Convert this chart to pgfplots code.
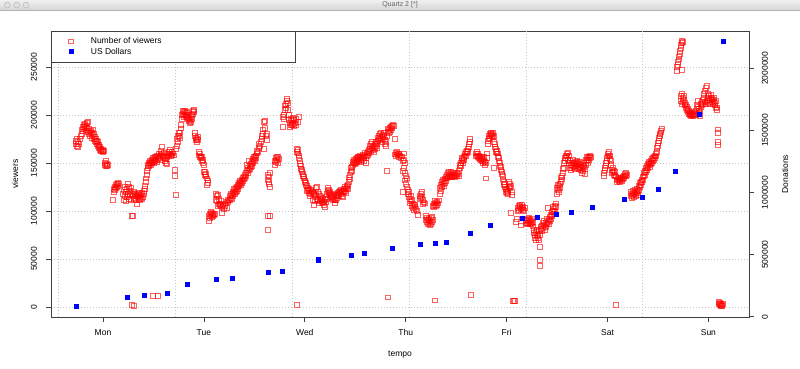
\documentclass[border=0pt]{standalone}
\usepackage{pgfplots}
\pgfplotsset{compat=1.18}
\usepackage{fontspec}
\setmainfont{Liberation Sans}
\definecolor{gridgray}{RGB}{200,200,200}
\begin{document}
\fontsize{8.5}{10}\selectfont
\begin{tikzpicture}
\useasboundingbox (0pt,0pt) rectangle (800pt,368pt);
\begin{axis}[
  at={(51pt,51pt)}, anchor=south west, scale only axis, width=698pt, height=286pt,
  xmin=-0.5154, xmax=6.4024, ymin=-10417, ymax=287500,
  axis line style={black!75, line width=0.75pt},
  tick style={black!75, line width=0.75pt}, major tick length=4.5pt,
  tick align=outside, tick pos=left,
  xtick={0,1,2,3,4,5,6}, xticklabels={Mon,Tue,Wed,Thu,Fri,Sat,Sun},
  ytick={0,50000,100000,150000,200000,250000},
  scaled y ticks=false,
  yticklabel style={rotate=90, anchor=south},
  yticklabel shift=6.4pt, xticklabel shift=5pt,
  /pgf/number format/1000 sep={}, /pgf/number format/fixed,
  /pgf/number format/assume math mode=true,
  ymajorgrids,
  major grid style={gridgray, dash pattern=on 1pt off 2pt, line width=0.6pt},
  extra x ticks={-0.446,0.720,1.880,3.031,4.192,5.347},
  extra x tick style={grid=major, major tick length=0pt, xticklabel={}},
  xlabel={tempo}, ylabel={viewers},
  every axis x label/.style={at={(axis description cs:0.5,-0.1329)}, anchor=center},
  every axis y label/.style={at={(axis description cs:-0.0516,0.5)}, rotate=90, anchor=center},
  legend cell align=left,
  legend style={at={(0,1)}, anchor=north west, draw=black!75, line width=0.75pt, fill=white,
    inner xsep=11.3pt, inner ysep=4.75pt, row sep=0pt,
    nodes={inner sep=1.2pt, text height=6.3pt, text depth=1.8pt}},
  legend image code/.code={\draw[#1] plot coordinates {(8.5pt,0pt)}; \path[draw=none,fill=none] (0pt,0pt) (27pt,0pt);},
]
\addplot[only marks, mark=square, mark size=2.4pt, mark options={draw=red, draw opacity=0.62, line width=0.75pt}] coordinates {
(-0.267,173000) (-0.267,170000) (-0.257,175000) (-0.257,168000) (-0.247,172000) (-0.247,167000) (-0.237,170000) (-0.228,175000) (-0.218,178000) (-0.208,185000) (-0.208,180000) (-0.198,188000) (-0.198,183000) (-0.188,190000) (-0.188,186000) (-0.178,191000) (-0.178,188000) (-0.168,189000) (-0.168,184000) (-0.158,192000) (-0.158,187000) (-0.148,193000) (-0.148,182000) (-0.138,186000) (-0.138,180000) (-0.129,183000) (-0.129,178000) (-0.119,184000) (-0.119,181000) (-0.109,182000) (-0.109,176000) (-0.099,185000) (-0.099,179000) (-0.089,180000) (-0.089,175000) (-0.079,177000) (-0.079,173000) (-0.069,175000) (-0.069,172000) (-0.059,173000) (-0.059,170000) (-0.049,172000) (-0.049,168000) (-0.039,169000) (-0.039,166000) (-0.030,167000) (-0.030,164000) (-0.020,165000) (-0.020,163000) (-0.010,163000) (0.000,162000) (0.000,164000) (0.010,163000) (0.020,150000) (0.020,148000) (0.030,152000) (0.030,147000) (0.040,149000) (0.040,147000) (0.050,148000)
(0.099,112000) (0.109,120000) (0.109,123000) (0.119,122000) (0.119,125000) (0.129,124000) (0.129,127000) (0.139,125000) (0.139,128000) (0.149,126000) (0.149,129000) (0.159,128000)
(0.198,118000) (0.208,122000) (0.208,112000) (0.218,116000) (0.218,125000) (0.228,120000) (0.228,110000) (0.238,123000) (0.238,115000) (0.248,128000) (0.248,118000) (0.258,125000) (0.258,113000) (0.268,121000) (0.268,117000) (0.278,124000) (0.278,112000) (0.288,118000) (0.288,95000) (0.288,2000) (0.298,116000) (0.298,95000) (0.305,1500) (0.308,113000) (0.308,120000) (0.318,114000) (0.318,118000) (0.328,111000) (0.328,117000) (0.338,107000) (0.338,116000) (0.348,115000) (0.348,119000) (0.358,113000) (0.358,118000) (0.367,116000) (0.367,112000) (0.377,117000) (0.377,114000) (0.387,113000) (0.387,119000) (0.397,115000) (0.407,118000) (0.407,121000) (0.417,123000) (0.417,126000)
(0.427,130000) (0.427,134000) (0.437,138000) (0.437,142000) (0.447,145000) (0.447,148000) (0.457,147000) (0.457,150000) (0.466,149000) (0.466,152000) (0.476,148000) (0.476,151000) (0.486,150000) (0.486,153000) (0.496,151000) (0.496,155000) (0.493,11800) (0.506,150000) (0.506,154000) (0.516,152000) (0.516,157000) (0.526,153000) (0.526,156000) (0.536,151000) (0.536,158000) (0.546,154000) (0.546,157000) (0.545,11500) (0.556,155000) (0.556,160000) (0.565,157000) (0.565,153000) (0.575,159000) (0.575,163000) (0.585,160000) (0.585,167000) (0.595,158000) (0.595,156000) (0.605,157000) (0.605,161000) (0.615,155000) (0.615,152000) (0.625,150000) (0.625,154000) (0.635,149000) (0.635,156000) (0.645,157000) (0.645,160000) (0.655,158000) (0.655,162000) (0.664,160000) (0.664,164000) (0.674,159000) (0.674,157000) (0.684,162000) (0.684,158000) (0.694,160000) (0.704,158000) (0.714,143000) (0.714,137000) (0.724,117000) (0.724,165000)
(0.734,168000) (0.734,175000) (0.744,172000) (0.744,178000) (0.754,178000) (0.754,181000) (0.763,182000) (0.763,176000) (0.773,190000) (0.773,186000) (0.783,196000) (0.783,200000) (0.793,201000) (0.793,204000) (0.803,203000) (0.803,198000) (0.813,204000) (0.813,200000) (0.823,202000) (0.823,199000) (0.833,198000) (0.833,203000) (0.843,200000) (0.843,196000) (0.853,197000) (0.853,194000) (0.862,195000) (0.862,192000) (0.872,193000) (0.872,198000) (0.882,196000) (0.882,200000) (0.892,201000) (0.892,204000) (0.902,203000) (0.902,205000) (0.912,181000) (0.912,178000) (0.922,176000) (0.922,174000) (0.932,175000) (0.932,172000) (0.942,174000) (0.942,177000) (0.952,162000) (0.952,158000) (0.961,160000) (0.961,156000) (0.971,157000) (0.971,155000) (0.981,156000) (0.981,152000) (0.991,153000) (0.991,150000) (1.001,148000) (1.001,141000) (1.011,141000) (1.011,138000) (1.021,139000) (1.021,136000) (1.031,134000) (1.031,127000) (1.041,129000) (1.041,132000)
(1.050,95000) (1.050,90000) (1.060,97000) (1.060,93000) (1.070,96000) (1.070,99000) (1.080,94000) (1.080,98000) (1.090,95000) (1.090,97000) (1.100,96000) (1.110,97000) (1.120,118000) (1.120,112000) (1.130,116000) (1.130,110000) (1.140,117000) (1.140,105000) (1.150,113000) (1.150,107000) (1.160,106000) (1.160,108000) (1.170,105000) (1.170,111000) (1.180,104000) (1.180,98000) (1.190,106000) (1.200,102000) (1.210,105000) (1.220,108000) (1.230,110000) (1.230,103000) (1.240,109000) (1.240,112000) (1.250,111000)
(1.259,112000) (1.259,116000) (1.269,114000) (1.269,118000) (1.279,117000) (1.279,113000) (1.289,120000) (1.289,116000) (1.299,119000) (1.299,123000) (1.309,122000) (1.309,118000) (1.319,124000) (1.319,120000) (1.329,125000) (1.329,121000) (1.339,127000) (1.339,123000) (1.349,126000) (1.349,129000) (1.358,128000) (1.358,131000) (1.368,130000) (1.368,127000) (1.378,133000) (1.378,129000) (1.388,131000) (1.388,135000) (1.398,136000) (1.398,133000) (1.408,138000) (1.408,134000) (1.418,140000) (1.418,136000) (1.428,142000) (1.428,148000) (1.438,145000) (1.438,140000) (1.448,143000) (1.448,152000) (1.457,147000) (1.457,144000) (1.467,149000) (1.467,146000) (1.477,151000) (1.477,147000) (1.487,150000) (1.487,154000) (1.497,153000) (1.497,157000) (1.507,156000) (1.507,152000) (1.517,158000) (1.517,155000) (1.527,160000) (1.527,163000) (1.537,162000) (1.547,166000) (1.547,170000) (1.556,168000) (1.566,172000) (1.576,175000) (1.576,178000) (1.586,180000) (1.586,185000) (1.596,193000) (1.596,165000) (1.606,194000) (1.606,187000) (1.616,178000) (1.626,180000) (1.626,174000) (1.636,95000) (1.636,80000) (1.636,138000) (1.636,132000) (1.645,136000) (1.645,130000) (1.645,128000) (1.655,95000) (1.655,140000) (1.655,125000)
(1.705,148000) (1.705,152000) (1.715,151000) (1.715,155000) (1.725,153000) (1.725,157000) (1.735,150000) (1.735,156000) (1.745,154000) (1.784,198000) (1.784,188000) (1.794,196000) (1.794,200000) (1.804,205000) (1.804,210000) (1.814,212000) (1.814,207000) (1.824,215000) (1.824,217000) (1.834,213000) (1.834,205000) (1.844,200000) (1.844,195000) (1.853,192000) (1.853,188000) (1.863,190000) (1.863,196000) (1.873,194000) (1.873,190000) (1.883,197000) (1.883,191000) (1.893,189000) (1.893,195000) (1.903,192000) (1.913,196000) (1.913,190000) (1.923,2000) (1.923,165000) (1.923,162000) (1.933,193000) (1.933,164000) (1.933,160000) (1.943,198000) (1.943,158000) (1.943,155000)
(1.952,152000) (1.952,149000) (1.962,147000) (1.962,144000) (1.972,143000) (1.972,141000) (1.982,139000) (1.982,137000) (1.992,136000) (1.992,134000) (2.002,132000) (2.002,130000) (2.012,129000) (2.012,127000) (2.022,126000) (2.022,121000) (2.032,124000) (2.032,122000) (2.042,123000) (2.042,119000) (2.052,121000) (2.052,116000) (2.062,122000) (2.062,118000) (2.072,120000) (2.082,119000) (2.082,112000) (2.092,118000) (2.092,106000) (2.102,110000) (2.102,116000)
(2.111,124000) (2.111,117000) (2.121,125000) (2.121,113000) (2.131,120000) (2.131,112000) (2.141,118000) (2.141,108000) (2.151,116000) (2.151,110000) (2.161,114000) (2.161,112000) (2.171,111000) (2.171,109000) (2.181,113000) (2.181,108000) (2.191,110000) (2.191,106000) (2.201,104000) (2.201,112000) (2.211,115000) (2.211,109000) (2.221,118000) (2.221,113000) (2.231,121000) (2.231,124000) (2.241,122000) (2.241,119000) (2.250,120000) (2.250,117000) (2.260,118000) (2.260,115000) (2.270,116000) (2.270,114000) (2.280,115000) (2.280,112000) (2.290,113000) (2.290,117000) (2.300,108000) (2.300,111000) (2.310,112000) (2.310,116000) (2.320,114000) (2.320,118000) (2.330,117000) (2.330,119000) (2.340,116000) (2.340,120000) (2.349,119000) (2.349,121000) (2.359,118000) (2.359,122000) (2.369,120000) (2.369,116000) (2.379,115000) (2.379,121000) (2.389,120000) (2.389,123000) (2.399,121000) (2.399,125000) (2.409,123000) (2.409,119000) (2.419,124000) (2.419,126000) (2.429,127000) (2.429,123000)
(2.438,130000) (2.438,135000) (2.448,138000) (2.448,133000) (2.458,141000) (2.458,145000) (2.468,146000) (2.468,142000) (2.478,148000) (2.478,151000) (2.488,150000) (2.488,153000) (2.498,152000) (2.498,149000) (2.508,154000) (2.508,150000) (2.518,151000) (2.518,155000) (2.528,153000) (2.528,157000) (2.538,156000) (2.538,152000) (2.547,155000) (2.547,158000) (2.557,154000) (2.557,151000) (2.567,157000) (2.567,153000) (2.577,159000) (2.577,155000) (2.587,156000) (2.587,152000) (2.597,158000) (2.597,161000) (2.607,155000) (2.607,150000) (2.617,160000) (2.617,157000) (2.627,162000) (2.627,158000) (2.637,160000) (2.637,164000) (2.646,165000) (2.646,168000) (2.656,170000) (2.656,163000) (2.666,172000) (2.666,166000) (2.676,168000) (2.676,164000) (2.686,167000) (2.686,162000) (2.696,165000) (2.696,170000) (2.706,168000) (2.706,172000) (2.716,170000) (2.716,166000) (2.726,173000) (2.726,176000) (2.736,178000) (2.736,174000) (2.745,180000) (2.745,176000) (2.755,182000) (2.755,175000) (2.765,178000) (2.765,172000) (2.775,175000) (2.775,179000) (2.785,177000) (2.785,181000) (2.795,174000) (2.795,170000) (2.805,168000) (2.805,172000) (2.815,142000) (2.815,178000) (2.825,183000) (2.825,186000) (2.825,10000) (2.835,185000) (2.835,181000) (2.844,187000) (2.844,182000) (2.854,188000) (2.854,184000) (2.864,189000) (2.864,186000) (2.874,190000) (2.884,189000) (2.894,175000) (2.894,159000) (2.904,161000) (2.904,157000) (2.914,159000) (2.914,162000) (2.924,158000) (2.924,160000) (2.934,160000) (2.934,156000) (2.944,158000) (2.954,155000) (2.964,157000) (2.974,152000) (2.974,142000) (2.974,120000)
(2.984,160000) (2.984,153000) (2.984,145000) (2.994,150000) (2.994,140000) (2.994,132000) (3.004,137000) (3.004,128000) (3.014,125000) (3.014,134000) (3.024,122000) (3.024,118000) (3.034,120000) (3.034,115000) (3.043,113000) (3.043,108000) (3.053,110000) (3.053,116000) (3.063,105000) (3.063,112000) (3.073,103000) (3.073,108000) (3.083,106000) (3.083,101000) (3.093,104000) (3.093,107000) (3.103,102000) (3.113,100000) (3.123,96000) (3.142,113000) (3.142,116000) (3.152,118000) (3.152,114000) (3.162,120000) (3.162,115000) (3.172,112000) (3.172,107000) (3.182,109000) (3.192,108000) (3.202,91000) (3.202,95000) (3.212,89000) (3.212,93000) (3.222,86000) (3.222,91000) (3.232,88000) (3.232,92000) (3.241,85000) (3.241,90000) (3.251,87000) (3.251,93000) (3.261,89000) (3.261,94000) (3.271,105000) (3.271,91000) (3.281,108000) (3.281,104000) (3.291,111000) (3.291,106000) (3.291,7000) (3.301,109000) (3.301,105000) (3.311,110000) (3.311,106000) (3.321,108000) (3.331,111000)
(3.340,118000) (3.340,124000) (3.350,121000) (3.350,127000) (3.360,125000) (3.360,130000) (3.370,128000) (3.370,133000) (3.380,131000) (3.380,126000) (3.390,134000) (3.390,129000) (3.400,136000) (3.400,131000) (3.410,138000) (3.410,134000) (3.420,140000) (3.420,135000) (3.430,137000) (3.430,141000) (3.439,139000) (3.439,135000) (3.449,137000) (3.449,141000) (3.459,138000) (3.459,135000) (3.469,140000) (3.469,136000) (3.479,137000) (3.489,139000) (3.489,135000) (3.499,138000) (3.509,140000) (3.509,136000) (3.519,139000) (3.529,137000) (3.529,142000) (3.538,145000) (3.538,148000) (3.548,150000) (3.548,147000) (3.558,152000) (3.558,155000) (3.568,154000) (3.568,150000) (3.578,156000) (3.578,153000) (3.588,158000) (3.588,160000) (3.598,157000) (3.598,162000) (3.608,160000) (3.608,163000) (3.618,165000) (3.618,162000) (3.628,170000) (3.628,167000) (3.637,175000) (3.637,172000) (3.647,12500) (3.697,160000) (3.697,157000) (3.707,158000) (3.707,162000) (3.717,156000) (3.717,160000) (3.727,155000) (3.727,158000) (3.736,157000) (3.736,154000) (3.746,153000) (3.746,156000) (3.756,152000) (3.756,155000) (3.766,150000) (3.766,154000) (3.776,152000) (3.776,156000) (3.786,148000) (3.786,151000) (3.796,134000) (3.796,150000) (3.806,160000) (3.806,155000) (3.816,170000) (3.816,173000) (3.826,175000) (3.826,178000) (3.835,176000) (3.835,180000) (3.845,179000) (3.845,181000) (3.855,180000) (3.855,178000) (3.865,181000) (3.865,177000)
(3.875,178000) (3.875,172000) (3.875,145000) (3.885,170000) (3.885,167000) (3.895,165000) (3.895,162000) (3.905,163000) (3.905,160000) (3.915,160000) (3.915,156000) (3.925,155000) (3.925,152000) (3.935,150000) (3.935,147000) (3.945,146000) (3.945,143000) (3.955,141000) (3.955,139000) (3.965,137000) (3.965,133000) (3.975,130000) (3.975,127000) (3.985,125000) (3.985,128000) (3.995,123000) (3.995,120000) (4.005,122000) (4.005,119000) (4.015,121000) (4.015,118000) (4.024,125000) (4.024,130000) (4.034,128000) (4.034,124000) (4.044,126000) (4.044,98000) (4.054,120000) (4.054,117000) (4.064,6000) (4.074,6000) (4.084,6000) (4.094,89000)
(4.104,92000) (4.114,103000) (4.114,100000) (4.124,105000) (4.124,101000) (4.133,104000) (4.133,107000) (4.143,102000) (4.143,85000) (4.153,103000) (4.153,106000) (4.163,101000) (4.163,104000) (4.173,100000) (4.183,103000) (4.193,91000) (4.193,88000) (4.203,90000) (4.203,86000) (4.213,92000) (4.213,88000) (4.223,89000) (4.223,93000) (4.232,87000) (4.232,91000) (4.242,90000) (4.242,86000) (4.252,88000) (4.252,92000) (4.262,84000) (4.262,89000) (4.272,80000) (4.272,77000) (4.282,75000) (4.282,72000) (4.292,78000) (4.292,70000) (4.302,74000) (4.302,80000) (4.312,72000) (4.312,76000) (4.322,70000) (4.322,79000) (4.331,63000) (4.331,49000) (4.331,43000) (4.331,75000) (4.341,81000) (4.341,84000) (4.351,85000) (4.351,79000) (4.361,82000) (4.361,88000) (4.371,86000) (4.371,90000) (4.381,84000) (4.381,80000) (4.391,88000) (4.391,83000) (4.401,92000) (4.401,86000) (4.411,103000) (4.411,89000) (4.421,91000) (4.421,87000) (4.430,90000) (4.430,94000) (4.440,96000) (4.440,92000) (4.450,99000) (4.450,95000) (4.460,100000) (4.460,104000) (4.470,102000) (4.470,97000) (4.480,105000) (4.480,99000) (4.490,108000) (4.490,104000) (4.500,118000) (4.500,124000) (4.510,122000) (4.510,127000) (4.520,126000) (4.520,120000) (4.529,128000) (4.529,124000) (4.539,130000) (4.539,135000) (4.549,137000) (4.549,133000) (4.559,140000) (4.559,144000) (4.569,145000) (4.569,150000) (4.579,152000) (4.579,155000) (4.589,155000) (4.589,158000) (4.599,157000) (4.599,160000) (4.609,161000) (4.609,153000) (4.619,158000) (4.619,150000)
(4.628,145000) (4.628,152000) (4.638,148000) (4.638,143000) (4.648,150000) (4.648,145000) (4.658,153000) (4.658,147000) (4.668,146000) (4.668,150000) (4.678,144000) (4.678,149000) (4.688,151000) (4.688,147000) (4.698,148000) (4.698,152000) (4.708,145000) (4.708,150000) (4.718,149000) (4.718,144000) (4.727,146000) (4.727,151000) (4.737,143000) (4.737,148000) (4.747,140000) (4.747,145000) (4.757,147000) (4.757,142000) (4.767,150000) (4.767,146000) (4.777,144000) (4.777,139000) (4.787,148000) (4.787,153000) (4.797,152000) (4.797,156000) (4.807,155000) (4.807,150000) (4.817,157000) (4.817,153000) (4.827,158000) (4.827,155000) (4.837,156000)
(4.965,140000) (4.965,137000) (4.975,143000) (4.975,145000) (4.985,150000) (4.985,147000) (4.995,155000) (4.995,152000) (5.005,158000) (5.005,160000) (5.015,162000) (5.015,157000) (5.025,158000) (5.025,154000) (5.035,152000) (5.035,148000) (5.045,143000) (5.045,140000) (5.055,145000) (5.055,141000) (5.065,142000) (5.065,138000) (5.075,141000) (5.075,137000) (5.085,2000) (5.085,136000) (5.095,133000) (5.095,130000) (5.105,132000) (5.105,135000) (5.115,131000) (5.115,134000) (5.124,133000) (5.124,130000) (5.134,132000) (5.134,135000) (5.144,134000) (5.144,131000) (5.154,136000) (5.154,133000) (5.164,137000) (5.164,134000) (5.174,139000) (5.174,136000) (5.184,140000) (5.184,137000) (5.194,138000)
(5.233,116000) (5.233,120000) (5.243,114000) (5.243,118000) (5.253,117000) (5.253,121000) (5.263,115000) (5.263,119000) (5.273,118000) (5.273,122000) (5.283,116000) (5.283,120000) (5.293,119000) (5.293,123000) (5.303,117000) (5.303,121000) (5.313,122000) (5.313,126000) (5.322,125000) (5.322,129000) (5.332,130000) (5.332,127000) (5.342,133000) (5.342,130000) (5.352,136000) (5.352,132000) (5.362,140000) (5.362,136000) (5.372,142000) (5.372,138000) (5.382,145000) (5.382,141000) (5.392,147000) (5.392,143000) (5.402,149000) (5.402,145000) (5.412,148000) (5.412,151000) (5.421,150000) (5.421,146000) (5.431,152000) (5.431,149000) (5.441,154000) (5.441,150000) (5.451,155000) (5.451,152000) (5.461,157000) (5.461,153000) (5.471,158000) (5.471,155000) (5.481,160000) (5.481,157000) (5.491,162000) (5.491,166000) (5.501,168000) (5.501,171000) (5.511,173000) (5.511,176000) (5.520,178000) (5.520,180000) (5.530,182000) (5.530,184000) (5.540,186000)
(5.688,246000) (5.688,250000) (5.698,252000) (5.698,255000) (5.708,258000) (5.708,261000) (5.718,264000) (5.718,267000) (5.728,270000) (5.728,273000) (5.728,215000) (5.728,220000) (5.738,275000) (5.738,277000) (5.738,247000) (5.738,222000) (5.738,212000) (5.748,276000) (5.748,218000) (5.748,214000) (5.758,220000) (5.758,216000) (5.768,213000) (5.768,210000) (5.778,211000) (5.778,207000) (5.788,209000) (5.788,205000) (5.798,206000) (5.798,203000) (5.808,204000) (5.808,201000) (5.818,202000) (5.818,200000) (5.828,201000) (5.828,199000) (5.838,200000) (5.838,202000) (5.848,199000) (5.848,201000) (5.858,200000) (5.858,203000) (5.868,201000) (5.878,204000) (5.878,200000) (5.888,207000) (5.888,211000) (5.898,215000) (5.898,209000) (5.908,206000) (5.908,202000) (5.917,204000) (5.917,199000) (5.927,208000) (5.927,212000) (5.937,210000) (5.937,214000) (5.947,216000) (5.947,212000) (5.957,218000) (5.957,222000) (5.967,225000) (5.967,214000) (5.977,228000) (5.977,211000) (5.987,230000) (5.987,215000) (5.997,218000) (5.997,222000) (6.007,220000) (6.007,213000) (6.016,216000) (6.016,212000) (6.026,218000) (6.026,221000) (6.036,214000) (6.036,217000) (6.046,216000) (6.046,212000) (6.056,218000) (6.056,214000) (6.066,213000) (6.066,210000) (6.076,215000) (6.076,207000) (6.086,205000) (6.086,208000) (6.096,185000) (6.096,181000) (6.096,172000) (6.096,169000) (6.106,5000) (6.106,3000) (6.115,2000) (6.115,4000) (6.125,3000) (6.125,1500) (6.135,2500) (6.135,1000) (6.145,3000)
};
\addlegendentry{Number of viewers\hspace*{121pt}}
\addlegendimage{only marks, mark=square*, mark size=1.9pt, mark options={fill=blue, draw=blue, line width=0pt}}
\addlegendentry{US Dollars}
\end{axis}
\begin{axis}[
  at={(51pt,51pt)}, anchor=south west, scale only axis, width=698pt, height=286pt,
  xmin=-0.5154, xmax=6.4024, ymin=-2400, ymax=2300000,
  axis x line=none, axis y line*=right,
  axis line style={black!75, line width=0.75pt},
  tick style={black!75, line width=0.75pt}, major tick length=4.5pt,
  tick align=outside,
  ytick={0,500000,1000000,1500000,2000000},
  scaled y ticks=false,
  yticklabel style={rotate=90, anchor=north},
  yticklabel shift=5.4pt,
  /pgf/number format/1000 sep={}, /pgf/number format/fixed,
  /pgf/number format/assume math mode=true,
  ylabel={Donations},
  every axis y label/.style={at={(axis description cs:1.0516,0.5)}, rotate=90, anchor=center},
]
\addplot[only marks, mark=square*, mark size=2.0pt, mark options={fill=blue, draw=blue, line width=0pt}] coordinates {
(-0.261,83700) (0.245,156000) (0.416,166700) (0.641,190800) (0.833,257700) (1.120,301000) (1.281,309000) (1.642,354000) (1.774,360000) (2.134,456500) (2.458,494000) (2.590,505000) (2.867,553000) (3.149,585000) (3.293,593000) (3.409,601000) (3.644,666000) (3.845,736000) (4.160,786700) (4.308,794700) (4.490,821000) (4.648,840600) (4.849,881000) (5.173,945000) (5.342,958000) (5.507,1026000) (5.676,1165000) (5.914,1626000) (6.148,2217000)
};
\end{axis}
% window title bar
\shade[top color=black!6, bottom color=black!16] (0pt,358pt) rectangle (800pt,368pt);
\draw[black!30, line width=0.6pt] (0pt,358pt) -- (800pt,358pt);
\foreach \cx in {7.3,16.7,26} \draw[black!30, fill=black!12, line width=0.4pt] (\cx pt,363pt) circle (3pt);
\node[font=\fontsize{7}{8}\selectfont, text=black!60, inner sep=0pt] at (400pt,363pt) {Quartz 2 [*]};
\end{tikzpicture}
\end{document}
